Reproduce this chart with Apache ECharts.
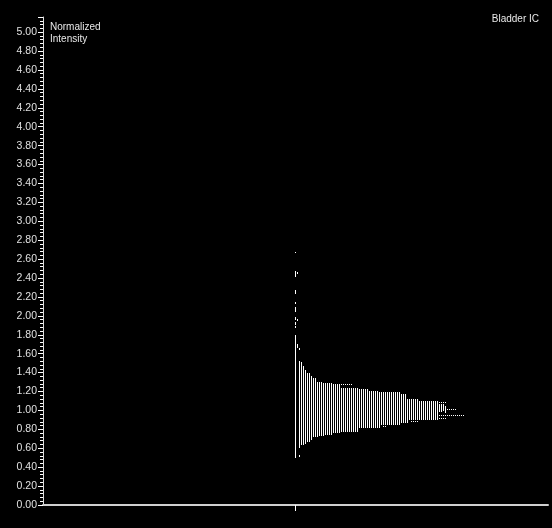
<!DOCTYPE html>
<html><head><meta charset="utf-8">
<script src="https://cdn.jsdelivr.net/npm/echarts@6/dist/echarts.min.js"></script>
<style>html,body{margin:0;padding:0;background:#000;}#c{width:552px;height:528px;}</style>
</head><body><div id="c"></div>
<script>
// Column index 0 sits at the single x tick; each step is one column.
const colHigh = [1.80,1.70,1.52,1.515,1.47,1.43,1.40,1.40,1.36,1.34,1.34,1.30,1.30,1.30,
  1.29,1.29,1.29,1.29,1.29,1.28,1.28,1.28,1.28,
  1.24,1.24,1.24,1.24,1.24,1.24,1.24,1.24,1.24,
  1.23,1.23,1.23,1.23,1.23,
  1.205,1.205,1.205,1.205,1.205,
  1.19,1.19,1.19,1.19,1.19,1.19,1.19,1.19,1.19,1.19,1.19,
  1.17,1.17,1.17,
  1.12,1.12,1.12,1.12,1.12,1.12,
  1.10,1.10,1.10,1.10,1.10,1.10,1.10,1.10,1.10,1.10];
const colLow = [0.50,1.66,0.60,0.63,0.63,0.65,0.67,0.67,0.69,0.715,0.715,0.72,0.73,0.73,
  0.73,0.74,0.74,0.74,0.74,0.76,0.76,0.76,0.76,
  0.775,0.775,0.775,0.775,0.775,0.775,0.775,0.775,0.775,
  0.81,0.81,0.81,0.81,0.81,
  0.81,0.81,0.81,0.81,0.81,
  0.81,0.845,0.845,0.845,0.845,0.845,0.845,0.845,0.845,0.845,0.845,
  0.865,0.865,0.865,
  0.87,0.90,0.90,0.90,0.90,0.90,
  0.90,0.90,0.90,0.90,0.90,0.90,0.90,0.90,0.90,0.90];
// isolated short marks: [column, low, high]
const extraMarks = [
  [0,2.66,2.68],[0,2.41,2.47],[0,2.23,2.27],[0,2.13,2.15],[0,2.04,2.09],[0,1.96,1.99],[0,1.90,1.94],[0,1.87,1.89],
  [1,2.44,2.46],[1,1.95,1.97],[2,1.64,1.66],[2,0.51,0.53],
  [23,1.265,1.275],[24,1.265,1.275],[25,1.265,1.275],[26,1.265,1.275],[27,1.265,1.275],[28,1.265,1.275],
  [44,0.83,0.84],[45,0.83,0.84],
  [58,0.875,0.885],[59,0.875,0.885],[60,0.875,0.885],[61,0.875,0.885],
  [66,0.905,0.915],[67,0.905,0.915],[68,0.905,0.915],[69,0.905,0.915],[70,0.905,0.915],[71,0.905,0.915],[72,0.905,0.915],[73,0.905,0.915],[74,0.905,0.915],[75,0.905,0.915],
  [72,0.98,1.07],[73,0.98,1.07],[74,0.99,1.07],[75,0.97,1.05],
  [71,1.075,1.085],[72,1.075,1.085],[73,1.075,1.085],[74,1.075,1.085],[75,1.075,1.085],
  [76,1.005,1.015],[77,1.005,1.015],[78,1.005,1.015],[79,1.005,1.015],[80,1.005,1.015],
  [71,0.945,0.955],[72,0.945,0.955],[73,0.945,0.955],[74,0.945,0.955],[75,0.945,0.955],[76,0.945,0.955],[77,0.945,0.955],
  [78,0.945,0.955],[79,0.945,0.955],[80,0.945,0.955],[81,0.945,0.955],[82,0.945,0.955],[83,0.945,0.955],[84,0.945,0.955]
];
const yTitle = 'Normalized\nIntensity';
const chartTitle = 'Bladder IC';

const colData = colHigh.map((h, i) => [i, colLow[i], h]);

function renderSeg(params, api) {
  const x = api.value(0);
  const p1 = api.coord([x, api.value(2)]);
  const p2 = api.coord([x, api.value(1)]);
  const top = Math.round(p1[1]);
  const h = Math.max(1, Math.round(p2[1]) - top);
  return { type: 'rect', shape: { x: Math.floor(p1[0]), y: top, width: 1, height: h },
    style: { fill: '#ffffff' } };
}

const chart = echarts.init(document.getElementById('c'), null, { renderer: 'canvas' });
chart.setOption({
  backgroundColor: '#000000',
  animation: false,
  title: [
    { text: yTitle, left: 45, top: 16, textStyle: { color: '#e8e8e8', fontSize: 10, fontWeight: 'normal', fontFamily: 'Liberation Sans, Arial, sans-serif', lineHeight: 12 } },
    { text: chartTitle, right: 8, top: 9, textStyle: { color: '#e8e8e8', fontSize: 10, fontWeight: 'normal', fontFamily: 'Liberation Sans, Arial, sans-serif' } }
  ],
  grid: { left: 43, right: 4, top: 17, bottom: 23, containLabel: false },
  xAxis: {
    type: 'value', min: -126, max: 126.5,
    axisLine: { onZero: false, lineStyle: { color: '#cfcfcf', width: 2 } },
    axisTick: { show: true, customValues: [0], length: 6, lineStyle: { color: '#ffffff', width: 1 } },
    axisLabel: { show: false },
    splitLine: { show: false }
  },
  yAxis: {
    type: 'value', min: 0, max: 5.16, interval: 0.2,
    axisLine: { show: true, onZero: false, lineStyle: { color: '#dcdcdc', width: 1 } },
    axisTick: { show: true, length: 5, lineStyle: { color: '#ffffff' } },
    minorTick: { show: true, splitNumber: 5, length: 3, lineStyle: { color: '#ffffff' } },
    axisLabel: { color: '#e0e0e0', fontSize: 10.5, fontFamily: 'Liberation Sans, Arial, sans-serif', margin: 6,
      showMaxLabel: false, formatter: v => (v > 5.001 ? '' : v.toFixed(2)) },
    splitLine: { show: false }
  },
  series: [
    { type: 'custom', renderItem: renderSeg, data: colData, encode: { x: 0, y: [1, 2] }, clip: true },
    { type: 'custom', renderItem: renderSeg, data: extraMarks, encode: { x: 0, y: [1, 2] }, clip: true }
  ]
});
</script></body></html>
